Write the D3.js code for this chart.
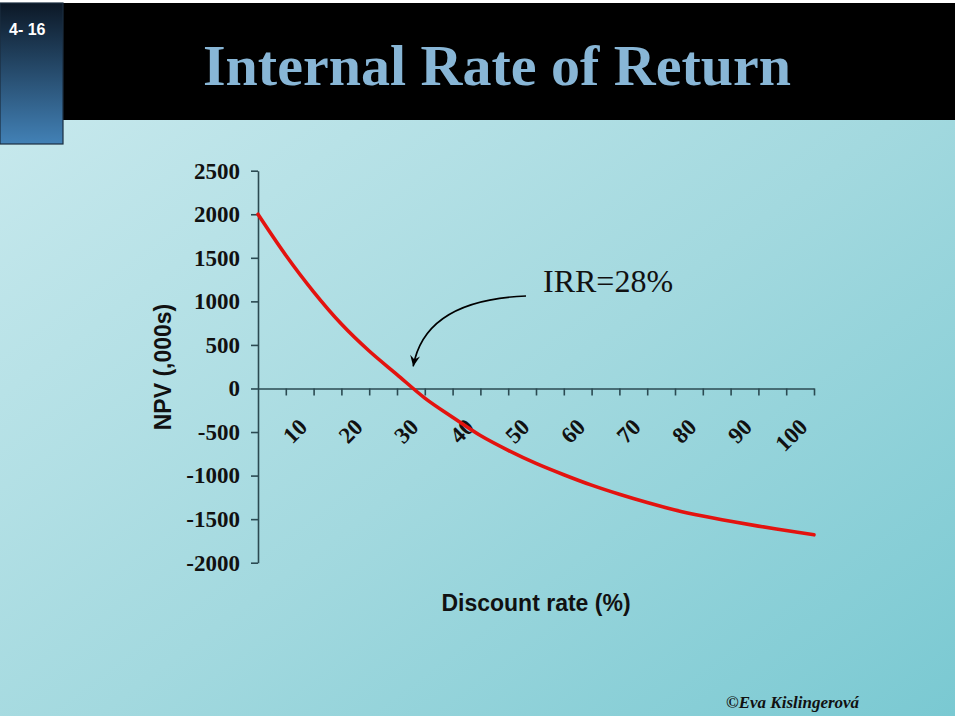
<!DOCTYPE html>
<html>
<head>
<meta charset="utf-8">
<script src="https://cdn.jsdelivr.net/npm/d3@7"></script>
<style>
  html, body { margin: 0; padding: 0; background: #fff; }
  svg { display: block; }
</style>
</head>
<body>
<svg id="chart" width="960" height="720"></svg>
<script>
// ── Data ──────────────────────────────────────────────────────
const rates = [0, 5, 10, 15, 20, 25, 30, 35, 40, 45, 50, 55, 60, 65, 70, 75, 80, 85, 90, 95, 100];
const npv = [2000, 1530, 1110, 740, 430, 160, -110, -330, -540, -710, -860, -990, -1110, -1215, -1310, -1395, -1465, -1525, -1580, -1630, -1680];
const yTicks = [2500, 2000, 1500, 1000, 500, 0, -500, -1000, -1500, -2000];
const xTicks = [5, 10, 15, 20, 25, 30, 35, 40, 45, 50, 55, 60, 65, 70, 75, 80, 85, 90, 95, 100];
const xLabels = [10, 20, 30, 40, 50, 60, 70, 80, 90, 100];
const irr = 28;

const svg = d3.select('#chart');
const defs = svg.append('defs');

// ── Slide background ──────────────────────────────────────────
const bg = defs.append('linearGradient').attr('id', 'bg')
  .attr('x1', '0').attr('y1', '0').attr('x2', '1').attr('y2', '1');
bg.append('stop').attr('offset', '0%').attr('stop-color', '#cdebef');
bg.append('stop').attr('offset', '55%').attr('stop-color', '#a3d9df');
bg.append('stop').attr('offset', '100%').attr('stop-color', '#7ac9d2');

const box = defs.append('linearGradient').attr('id', 'box')
  .attr('x1', '0').attr('y1', '0').attr('x2', '0').attr('y2', '1');
box.append('stop').attr('offset', '0%').attr('stop-color', '#0c1826');
box.append('stop').attr('offset', '100%').attr('stop-color', '#4281b6');

svg.append('rect').attr('x', 0).attr('y', 3).attr('width', 955).attr('height', 713).attr('fill', 'url(#bg)');
svg.append('rect').attr('x', 63).attr('y', 3).attr('width', 892).attr('height', 117).attr('fill', '#000');
svg.append('rect').attr('x', 0).attr('y', 3).attr('width', 63).attr('height', 141)
  .attr('fill', 'url(#box)').attr('stroke', '#1c2e40').attr('stroke-width', 1.2);

svg.append('text').attr('x', 9).attr('y', 35)
  .attr('font-family', 'Liberation Sans, Arial, sans-serif').attr('font-weight', 'bold')
  .attr('font-size', 16).attr('fill', '#fff').text('4- 16');

svg.append('text').attr('x', 203).attr('y', 85)
  .attr('font-family', 'Liberation Serif, Times New Roman, serif').attr('font-weight', 'bold')
  .attr('font-size', 58).attr('fill', '#88b6d6').text('Internal Rate of Return');

// ── Scales ────────────────────────────────────────────────────
const x = d3.scaleLinear().domain([0, 100]).range([258, 814]);
const y = d3.scaleLinear().domain([-2000, 2500]).range([562.7, 170.7]);
const axisColor = '#2b4a52';

// ── Y axis ────────────────────────────────────────────────────
const yAxis = svg.append('g').attr('transform', `translate(${x(0)},0)`)
  .call(d3.axisLeft(y).tickValues(yTicks).tickSize(7).tickSizeOuter(0).tickFormat(d => String(d)).tickPadding(11));
yAxis.select('.domain').attr('stroke', axisColor).attr('stroke-width', 1.6);
yAxis.selectAll('.tick line').attr('stroke', axisColor).attr('stroke-width', 1.6);
yAxis.selectAll('.tick text')
  .attr('font-family', 'Liberation Serif, Times New Roman, serif').attr('font-weight', 'bold')
  .attr('font-size', 23).attr('fill', '#111');

// ── X axis (ticks every 5 %, labels every 10 %) ───────────────
const xAxis = svg.append('g').attr('transform', `translate(0,${y(0)})`)
  .call(d3.axisBottom(x).tickValues(xTicks).tickSize(7).tickSizeOuter(0).tickFormat(''));
xAxis.select('.domain').attr('stroke', axisColor).attr('stroke-width', 1.6);
xAxis.selectAll('.tick line').attr('stroke', axisColor).attr('stroke-width', 1.6);

svg.append('g').selectAll('text')
  .data(xLabels).join('text')
  .attr('transform', d => `translate(${x(d) - 5},${y(0) + 40}) rotate(-45)`)
  .attr('text-anchor', 'end')
  .attr('font-family', 'Liberation Serif, Times New Roman, serif').attr('font-weight', 'bold')
  .attr('font-size', 23).attr('fill', '#111')
  .text(d => d);

// ── Axis titles ───────────────────────────────────────────────
svg.append('text').attr('transform', 'translate(171,367) rotate(-90)')
  .attr('text-anchor', 'middle')
  .attr('font-family', 'Liberation Sans, Arial, sans-serif').attr('font-weight', 'bold')
  .attr('font-size', 23).attr('fill', '#111').text('NPV (,000s)');

svg.append('text').attr('x', 536).attr('y', 611)
  .attr('text-anchor', 'middle')
  .attr('font-family', 'Liberation Sans, Arial, sans-serif').attr('font-weight', 'bold')
  .attr('font-size', 23).attr('fill', '#111').text('Discount rate (%)');

// ── NPV curve ─────────────────────────────────────────────────
const line = d3.line()
  .x((d, i) => x(rates[i]))
  .y(d => y(d))
  .curve(d3.curveCatmullRom);

svg.append('path').datum(npv)
  .attr('d', line)
  .attr('fill', 'none').attr('stroke', '#e3130f').attr('stroke-width', 3.6)
  .attr('stroke-linejoin', 'round').attr('stroke-linecap', 'round');

// ── IRR annotation ────────────────────────────────────────────
defs.append('marker')
  .attr('id', 'arrowhead')
  .attr('viewBox', '-12 -6 14 12').attr('refX', 0).attr('refY', 0)
  .attr('markerWidth', 14).attr('markerHeight', 12).attr('markerUnits', 'userSpaceOnUse')
  .attr('orient', 'auto')
  .append('path').attr('d', 'M0,0L-11,-5L-7,0L-11,5Z').attr('fill', '#000');

const tipX = x(irr) - 0.5, tipY = y(0) - 22;
svg.append('path')
  .attr('d', `M526,296 Q425,300 ${tipX},${tipY}`)
  .attr('fill', 'none').attr('stroke', '#000').attr('stroke-width', 1.6)
  .attr('marker-end', 'url(#arrowhead)');

svg.append('text').attr('x', 543).attr('y', 292)
  .attr('font-family', 'Liberation Serif, Times New Roman, serif')
  .attr('font-size', 32).attr('fill', '#111').text(`IRR=${irr}%`);

// ── Footer ────────────────────────────────────────────────────
svg.append('text').attr('x', 726).attr('y', 708)
  .attr('font-family', 'Liberation Serif, Times New Roman, serif').attr('font-style', 'italic')
  .attr('font-weight', 'bold')
  .attr('font-size', 17).attr('fill', '#111').text('©Eva Kislingerová');
</script>
</body>
</html>
